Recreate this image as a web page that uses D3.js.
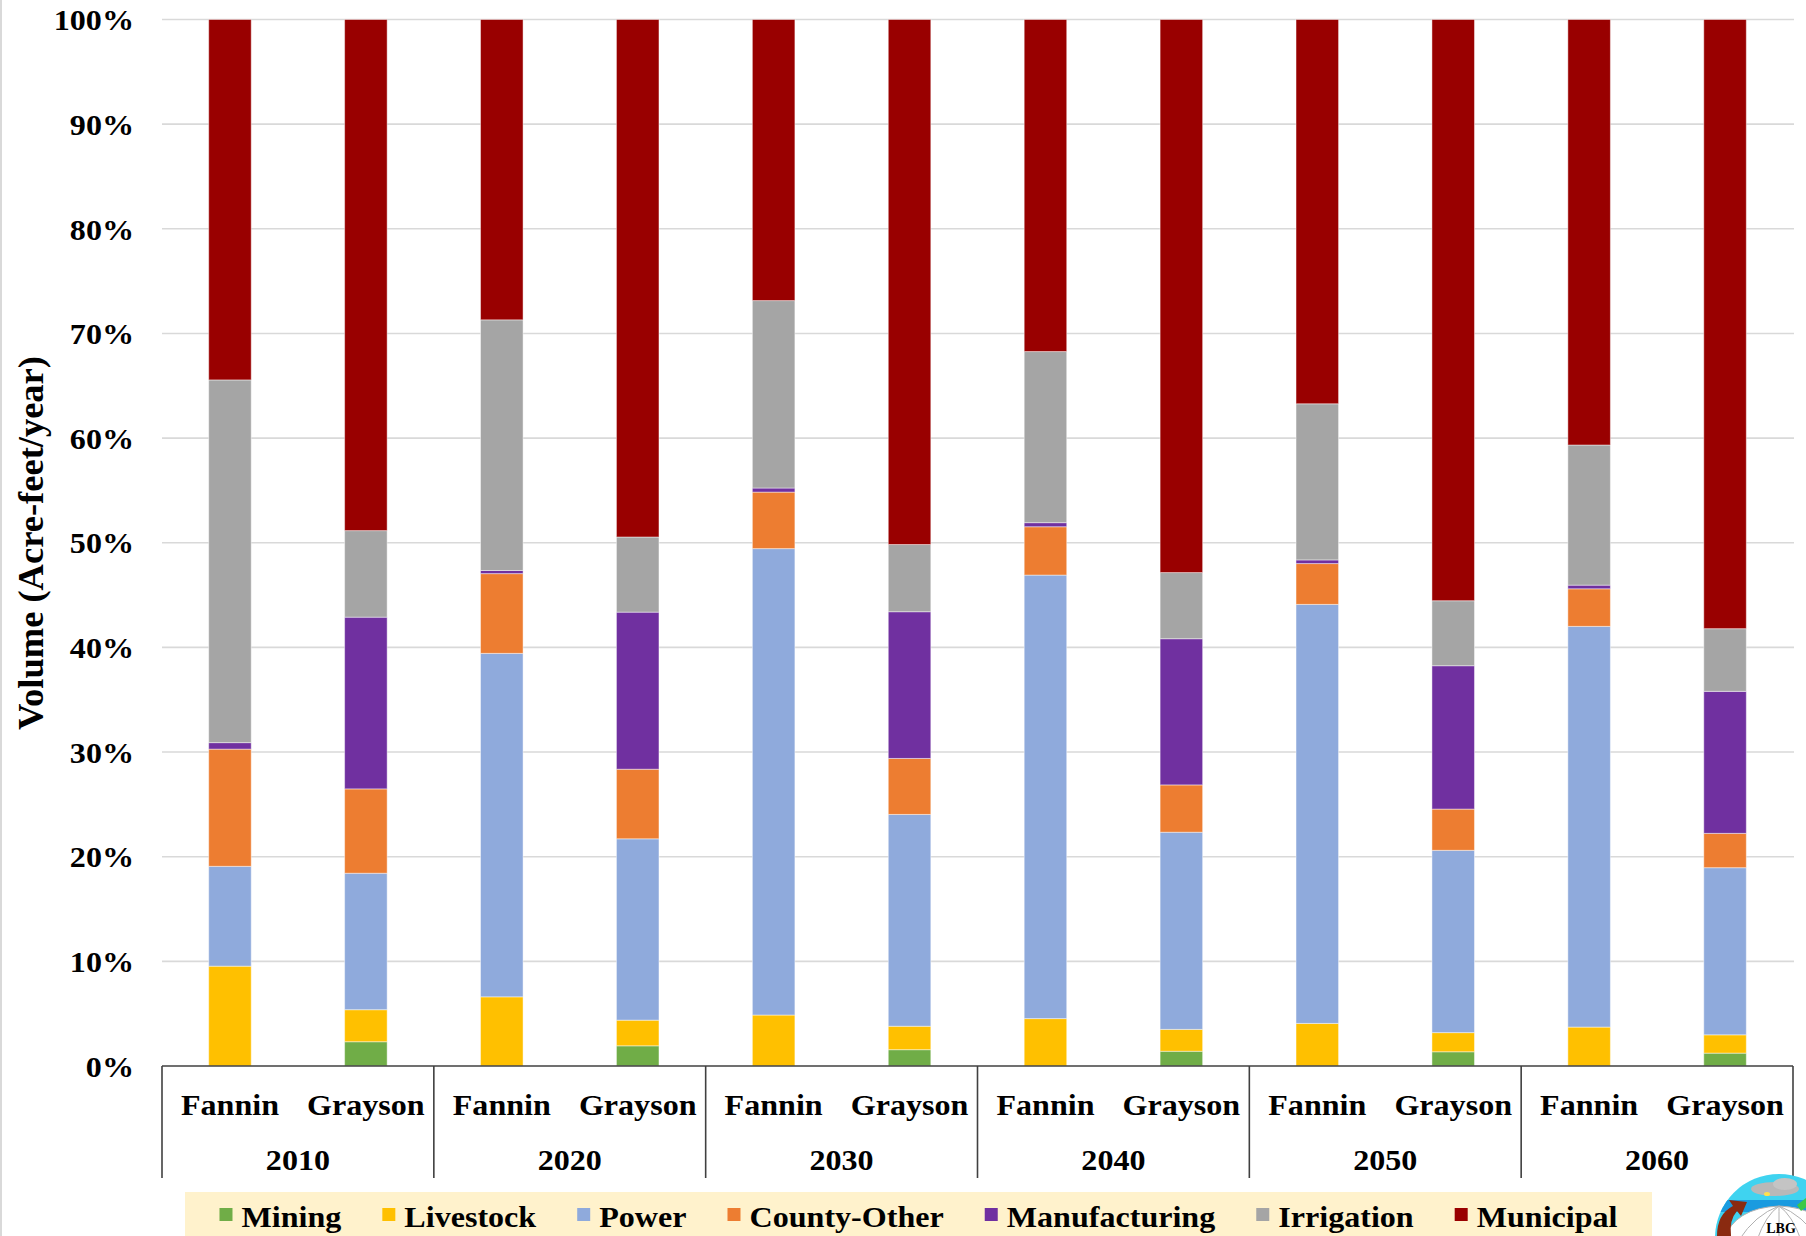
<!DOCTYPE html>
<html>
<head>
<meta charset="utf-8">
<script src="https://cdn.jsdelivr.net/npm/d3@7"></script>
<style>
  html, body { margin: 0; padding: 0; background: #ffffff; }
  svg { display: block; }
  text { font-family: "Liberation Serif", "Times New Roman", serif; font-weight: bold; fill: #000; }
</style>
</head>
<body>
<svg id="chart" width="1806" height="1236"></svg>
<script>
// ---------- DATA (percent shares) ----------
const years = ["2010", "2020", "2030", "2040", "2050", "2060"];
const counties = ["Fannin", "Grayson"];
const seriesNames = ["Mining", "Livestock", "Power", "County-Other", "Manufacturing", "Irrigation", "Municipal"];
const seriesColors = ["#70AD47", "#FFC000", "#8FAADC", "#ED7D31", "#7030A0", "#A5A5A5", "#990000"];
// order of values: 2010 Fannin, 2010 Grayson, 2020 Fannin, 2020 Grayson, ...
const mining        = [0, 2.32, 0, 1.93, 0, 1.56, 0, 1.41, 0, 1.36, 0, 1.23];
const livestock     = [9.54, 3.06, 6.61, 2.45, 4.87, 2.24, 4.53, 2.09, 4.07, 1.83, 3.72, 1.75];
const power         = [9.54, 13.04, 32.82, 17.33, 44.57, 20.24, 42.38, 18.84, 40.04, 17.42, 38.29, 15.97];
const countyOther   = [11.20, 8.06, 7.62, 6.65, 5.40, 5.35, 4.62, 4.52, 3.90, 3.94, 3.59, 3.28];
const manufacturing = [0.62, 16.41, 0.30, 15.01, 0.39, 14.02, 0.39, 13.97, 0.35, 13.70, 0.35, 13.57];
const irrigation    = [34.66, 8.27, 23.95, 7.18, 17.91, 6.42, 16.35, 6.32, 14.92, 6.21, 13.39, 5.99];
const municipal     = [34.44, 48.84, 28.70, 49.45, 26.86, 50.17, 31.73, 52.85, 36.72, 55.54, 40.66, 58.21];
const yTickValues   = [0, 0.1, 0.2, 0.3, 0.4, 0.5, 0.6, 0.7, 0.8, 0.9, 1.0];
const yTitle = "Volume (Acre-feet/year)";

// ---------- build rows ----------
const seriesValues = [mining, livestock, power, countyOther, manufacturing, irrigation, municipal];
const rows = [];
years.forEach((yr, i) => {
  counties.forEach((c, j) => {
    const k = i * counties.length + j;
    const r = { year: yr, county: c };
    seriesNames.forEach((s, si) => { r[s] = seriesValues[si][k]; });
    rows.push(r);
  });
});

const svg = d3.select("#chart");
const W = 1806, H = 1236;
const plot = { left: 162, right: 1793, top: 19.5, bottom: 1066 };
const SX = 1.07; // horizontal stretch of the source text rendering

// scales
const x0 = d3.scaleBand().domain(years).range([plot.left, plot.right]).padding(0);
const pIn = 0.687;
const x1 = d3.scaleBand().domain(counties).range([0, x0.bandwidth()])
  .paddingInner(pIn).paddingOuter(pIn / 2);
const y = d3.scaleLinear().domain([0, 1]).range([plot.bottom, plot.top]);
const color = d3.scaleOrdinal().domain(seriesNames).range(seriesColors);

// chart border (left edge)
svg.append("line").attr("x1", 1).attr("x2", 1).attr("y1", 0).attr("y2", H)
  .attr("stroke", "#d9d9d9").attr("stroke-width", 2);

// gridlines
svg.append("g").selectAll("line").data(yTickValues.filter(d => d > 0)).join("line")
  .attr("x1", plot.left).attr("x2", plot.right + 1)
  .attr("y1", d => y(d)).attr("y2", d => y(d))
  .attr("stroke", "#d9d9d9").attr("stroke-width", 1.6);

// y axis labels
const yAxis = d3.axisLeft(y).tickValues(yTickValues).tickFormat(d3.format(".0%")).tickSize(0).tickPadding(0);
const gy = svg.append("g").attr("transform", `translate(134,0)`).call(yAxis);
gy.select(".domain").remove();
gy.selectAll("text").attr("x", 0).attr("font-size", 30).attr("font-family", "Liberation Serif, Times New Roman, serif")
  .attr("font-weight", "bold").attr("fill", "#000").attr("dy", "0.34em")
  .attr("transform", `scale(${SX},1)`);

// y title
svg.append("text")
  .attr("transform", "translate(43,543) rotate(-90)")
  .attr("text-anchor", "middle")
  .attr("font-size", 36.5)
  .text(yTitle);

// stacked bars
const stack = d3.stack().keys(seriesNames).offset(d3.stackOffsetExpand);
const stacked = stack(rows);
svg.append("g").selectAll("g").data(stacked).join("g")
  .attr("fill", d => color(d.key))
  .selectAll("rect").data(d => d).join("rect")
  .attr("x", d => x0(d.data.year) + x1(d.data.county))
  .attr("width", x1.bandwidth())
  .attr("y", d => y(d[1]))
  .attr("height", d => Math.max(0, y(d[0]) - y(d[1])))
  .attr("stroke", "rgba(255,255,255,0.45)")
  .attr("stroke-width", 1);

// category axis
const gx = svg.append("g");
gx.append("line").attr("x1", plot.left).attr("x2", plot.right)
  .attr("y1", plot.bottom).attr("y2", plot.bottom)
  .attr("stroke", "#404040").attr("stroke-width", 1.6);
const bounds = years.map(yr => x0(yr)).concat([plot.right]);
gx.selectAll("line.sep").data(bounds).join("line").attr("class", "sep")
  .attr("x1", d => d).attr("x2", d => d)
  .attr("y1", plot.bottom).attr("y2", 1178)
  .attr("stroke", "#404040").attr("stroke-width", 1.6);

// county labels
gx.selectAll("text.cty").data(rows).join("text").attr("class", "cty")
  .attr("transform", d => `translate(${x0(d.year) + x1(d.county) + x1.bandwidth() / 2},1115) scale(${SX},1)`)
  .attr("text-anchor", "middle")
  .attr("font-size", 30)
  .text(d => d.county);

// year labels
gx.selectAll("text.yr").data(years).join("text").attr("class", "yr")
  .attr("transform", d => `translate(${x0(d) + x0.bandwidth() / 2},1170) scale(${SX},1)`)
  .attr("text-anchor", "middle")
  .attr("font-size", 30)
  .text(d => d);

// legend
const legBox = { x: 185, y: 1192, w: 1467, h: 60 };
svg.append("rect").attr("x", legBox.x).attr("y", legBox.y)
  .attr("width", legBox.w).attr("height", legBox.h).attr("fill", "#FFF2CC");
const leg = svg.append("g");
const items = leg.selectAll("g").data(seriesNames).join("g");
const textOff = 22;
items.append("rect").attr("width", 13).attr("height", 13).attr("y", -19)
  .attr("fill", d => color(d));
items.append("text").attr("transform", `translate(${textOff},0) scale(${SX},1)`).attr("font-size", 30).text(d => d);
const gap = 41;
let cx = 0;
const offsets = [];
items.each(function () {
  const tw = d3.select(this).select("text").node().getComputedTextLength() * SX;
  offsets.push(cx);
  cx += textOff + tw + gap;
});
const totalW = cx - gap;
const startX = legBox.x + legBox.w / 2 - totalW / 2;
items.attr("transform", (d, i) => `translate(${startX + offsets[i]},1227)`);

// logo (bottom-right)
const logo = svg.append("g");
const lc = { x: 1779, y: 1238, r: 64 };
const clip = svg.append("defs").append("clipPath").attr("id", "logoClip");
clip.append("circle").attr("cx", lc.x).attr("cy", lc.y).attr("r", lc.r);
const lg = logo.append("g").attr("clip-path", "url(#logoClip)");
lg.append("rect").attr("x", lc.x - lc.r).attr("y", lc.y - lc.r).attr("width", 2 * lc.r).attr("height", 2 * lc.r).attr("fill", "#3fd3f0");
lg.append("rect").attr("x", lc.x - lc.r).attr("y", 1200).attr("width", 2 * lc.r).attr("height", 12).attr("fill", "#1a9be0");
lg.append("path").attr("d", `M${lc.x - 55},1240 Q${lc.x - 45},1208 ${lc.x},1206 Q${lc.x + 45},1208 ${lc.x + 55},1240 Z`)
  .attr("fill", "#ffffff").attr("stroke", "#b0b0b0").attr("stroke-width", 1);
[-40, -22, 0, 22, 40].forEach(dx => {
  lg.append("path").attr("d", `M${lc.x},1206 Q${lc.x + dx * 0.6},1215 ${lc.x + dx},1240`)
    .attr("fill", "none").attr("stroke", "#b0b0b0").attr("stroke-width", 1);
});
lg.append("ellipse").attr("cx", lc.x - 4).attr("cy", 1189).attr("rx", 24).attr("ry", 7).attr("fill", "#b8b8b8");
lg.append("ellipse").attr("cx", lc.x + 6).attr("cy", 1184).attr("rx", 12).attr("ry", 6).attr("fill", "#c4c4c4");
lg.append("ellipse").attr("cx", lc.x - 12).attr("cy", 1194).attr("rx", 3).attr("ry", 2).attr("fill", "#ffe14d");
lg.append("path").attr("d", `M${lc.x + 18},1205 L${lc.x + 40},1188 L${lc.x + 44},1194 L${lc.x + 22},1211 Z`).attr("fill", "#3cc84a");
logo.append("path")
  .attr("d", `M${lc.x - 62},1236 Q${lc.x - 62},1214 ${lc.x - 46},1206 L${lc.x - 50},1200 L${lc.x - 32},1202 L${lc.x - 38},1216 L${lc.x - 42},1211 Q${lc.x - 50},1220 ${lc.x - 48},1236 Z`)
  .attr("fill", "#8a2a10");
logo.append("text").attr("x", lc.x + 2).attr("y", 1233).attr("text-anchor", "middle")
  .attr("font-size", 14).text("LBG");
</script>
</body>
</html>
